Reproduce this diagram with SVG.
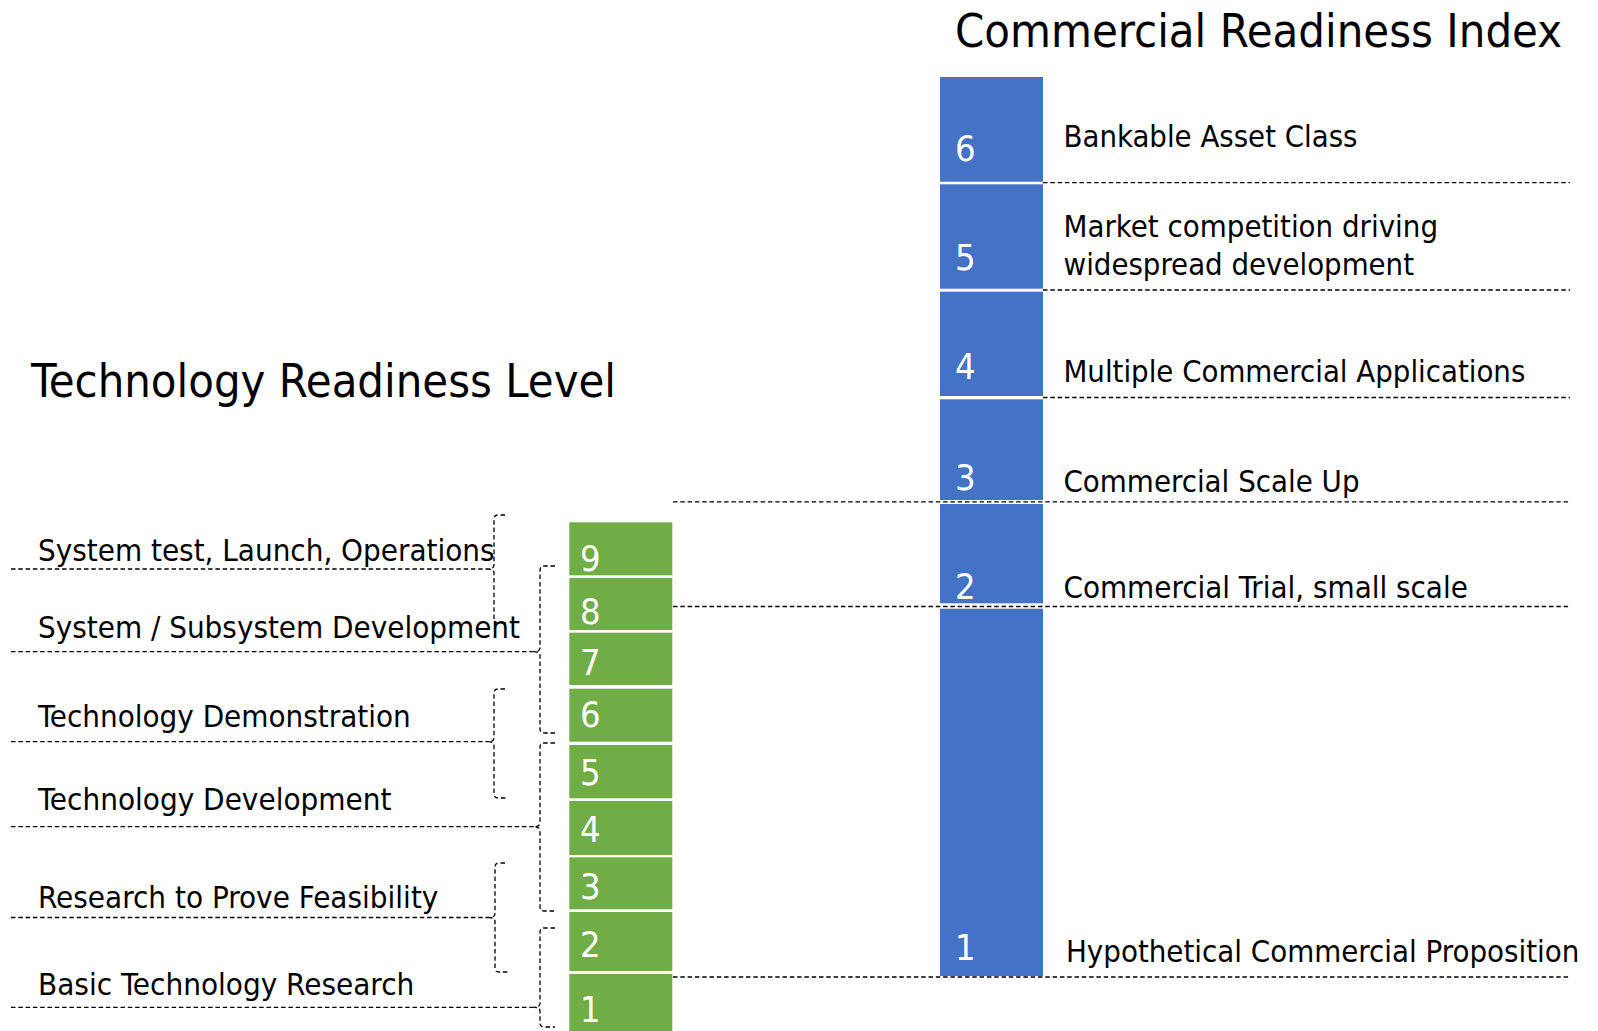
<svg xmlns="http://www.w3.org/2000/svg" width="1598" height="1031" viewBox="0 0 1598 1031">
  <style>
    text { font-family: 'DejaVu Sans Condensed', 'DejaVu Sans', sans-serif; font-stretch: condensed; }
    .title { font-size: 47px; fill: #000; }
    .label { font-size: 31px; fill: #000; }
    .num { font-size: 36px; fill: #fff; }
    .cri { fill: #4472C4; }
    .trl { fill: #70AD47; }
    .dash { fill: none; stroke: #000; stroke-width: 1.3; stroke-dasharray: 4.5 2.8; }
  </style>

  <rect width="1598" height="1031" fill="#fff"/>

  <!-- Titles -->
  <g id="title-cri">
    <text class="title" x="955" y="46.5" textLength="607" lengthAdjust="spacingAndGlyphs">Commercial Readiness Index</text>
  </g>
  <g id="title-trl">
    <text class="title" x="31" y="396.7" textLength="585" lengthAdjust="spacingAndGlyphs">Technology Readiness Level</text>
  </g>

  <!-- Commercial Readiness Index column -->
  <g id="cri-6">
    <rect class="cri" x="940" y="77" width="103" height="104.7"/>
    <text class="num" x="955" y="160.7">6</text>
    <text class="label" x="1063.5" y="147.3" textLength="294" lengthAdjust="spacingAndGlyphs">Bankable Asset Class</text>
  </g>
  <g id="cri-5">
    <rect class="cri" x="940" y="184.3" width="103" height="104.4"/>
    <text class="num" x="955" y="270">5</text>
    <text class="label" x="1063.5" y="236.7" textLength="374.5" lengthAdjust="spacingAndGlyphs">Market competition driving</text>
    <text class="label" x="1063.5" y="275" textLength="350.5" lengthAdjust="spacingAndGlyphs">widespread development</text>
  </g>
  <g id="cri-4">
    <rect class="cri" x="940" y="291.7" width="103" height="104.3"/>
    <text class="num" x="955" y="379.3">4</text>
    <text class="label" x="1063.5" y="382.3" textLength="461.8" lengthAdjust="spacingAndGlyphs">Multiple Commercial Applications</text>
  </g>
  <g id="cri-3">
    <rect class="cri" x="940" y="399.3" width="103" height="100.7"/>
    <text class="num" x="955" y="490">3</text>
    <text class="label" x="1063.5" y="491.7" textLength="296" lengthAdjust="spacingAndGlyphs">Commercial Scale Up</text>
  </g>
  <g id="cri-2">
    <rect class="cri" x="940" y="504" width="103" height="99.3"/>
    <text class="num" x="955" y="599.3">2</text>
    <text class="label" x="1063.5" y="598.3" textLength="404.3" lengthAdjust="spacingAndGlyphs">Commercial Trial, small scale</text>
  </g>
  <g id="cri-1">
    <rect class="cri" x="940" y="608.7" width="103" height="367.3"/>
    <text class="num" x="955" y="960">1</text>
    <text class="label" x="1066" y="962" textLength="513.3" lengthAdjust="spacingAndGlyphs">Hypothetical Commercial Proposition</text>
  </g>

  <!-- Technology Readiness Level column -->
  <g id="trl-9">
    <rect class="trl" x="569.3" y="522.3" width="103" height="53"/>
    <text class="num" x="580" y="571">9</text>
  </g>
  <g id="trl-8">
    <rect class="trl" x="569.3" y="578" width="103" height="52"/>
    <text class="num" x="580" y="624">8</text>
  </g>
  <g id="trl-7">
    <rect class="trl" x="569.3" y="632.7" width="103" height="52.3"/>
    <text class="num" x="580" y="675">7</text>
  </g>
  <g id="trl-6">
    <rect class="trl" x="569.3" y="688.7" width="103" height="53"/>
    <text class="num" x="580" y="726.7">6</text>
  </g>
  <g id="trl-5">
    <rect class="trl" x="569.3" y="745" width="103" height="53.3"/>
    <text class="num" x="580" y="785">5</text>
  </g>
  <g id="trl-4">
    <rect class="trl" x="569.3" y="801" width="103" height="54"/>
    <text class="num" x="580" y="841.7">4</text>
  </g>
  <g id="trl-3">
    <rect class="trl" x="569.3" y="857.3" width="103" height="52"/>
    <text class="num" x="580" y="899">3</text>
  </g>
  <g id="trl-2">
    <rect class="trl" x="569.3" y="912" width="103" height="59"/>
    <text class="num" x="580" y="956.7">2</text>
  </g>
  <g id="trl-1">
    <rect class="trl" x="569.3" y="974" width="103" height="60"/>
    <text class="num" x="580" y="1021.7">1</text>
  </g>

  <!-- Stage labels -->
  <g id="stage-operations">
    <text class="label" x="38" y="561" textLength="456.6" lengthAdjust="spacingAndGlyphs">System test, Launch, Operations</text>
  </g>
  <g id="stage-subsystem">
    <text class="label" x="38" y="637.7" textLength="482" lengthAdjust="spacingAndGlyphs">System / Subsystem Development</text>
  </g>
  <g id="stage-demonstration">
    <text class="label" x="38" y="726.7" textLength="372.7" lengthAdjust="spacingAndGlyphs">Technology Demonstration</text>
  </g>
  <g id="stage-development">
    <text class="label" x="38" y="810" textLength="353.5" lengthAdjust="spacingAndGlyphs">Technology Development</text>
  </g>
  <g id="stage-feasibility">
    <text class="label" x="38" y="908.3" textLength="400.4" lengthAdjust="spacingAndGlyphs">Research to Prove Feasibility</text>
  </g>
  <g id="stage-basic">
    <text class="label" x="38" y="995" textLength="376.3" lengthAdjust="spacingAndGlyphs">Basic Technology Research</text>
  </g>

  <!-- Dashed guide lines and braces -->
  <g id="connectors" class="dash">
    <!-- CRI level boundaries -->
    <line x1="1043" y1="182.7" x2="1570" y2="182.7"/>
    <line x1="1043" y1="290" x2="1570" y2="290"/>
    <line x1="1043" y1="397.5" x2="1570" y2="397.5"/>
    <line x1="673" y1="501.8" x2="1570" y2="501.8"/>
    <line x1="673" y1="606.5" x2="1570" y2="606.5"/>
    <line x1="673" y1="977" x2="1570" y2="977"/>

    <!-- stage underlines -->
    <line x1="11" y1="569" x2="488" y2="569"/>
    <line x1="11" y1="651.7" x2="534" y2="651.7"/>
    <line x1="11" y1="741.7" x2="488" y2="741.7"/>
    <line x1="11" y1="826.7" x2="534" y2="826.7"/>
    <line x1="11" y1="917.5" x2="489" y2="917.5"/>
    <line x1="11" y1="1007.3" x2="534" y2="1007.3"/>

    <!-- braces grouping TRL levels -->
    <path d="M505,515 L498,515 Q494,515 494,519 L494,565 Q494,569 488,569 Q494,569 494,573 L494,619 Q494,623 498,623 L506,623"/>
    <path d="M555,566 L544,566 Q540,566 540,570 L540,647.7 Q540,651.7 534,651.7 Q540,651.7 540,655.7 L540,729 Q540,733 544,733 L555,733"/>
    <path d="M505,689 L498,689 Q494,689 494,693 L494,737.7 Q494,741.7 488,741.7 Q494,741.7 494,745.7 L494,794 Q494,798 498,798 L508,798"/>
    <path d="M555,743 L544,743 Q540,743 540,747 L540,822.7 Q540,826.7 534,826.7 Q540,826.7 540,830.7 L540,907 Q540,911 544,911 L555,911"/>
    <path d="M505,863 L499,863 Q495,863 495,867 L495,913.5 Q495,917.5 489,917.5 Q495,917.5 495,921.5 L495,968 Q495,972 499,972 L509,972"/>
    <path d="M555,928 L544,928 Q540,928 540,932 L540,1003.3 Q540,1007.3 534,1007.3 Q540,1007.3 540,1011.3 L540,1023 Q540,1027 544,1027 L555,1027"/>
  </g>
</svg>
